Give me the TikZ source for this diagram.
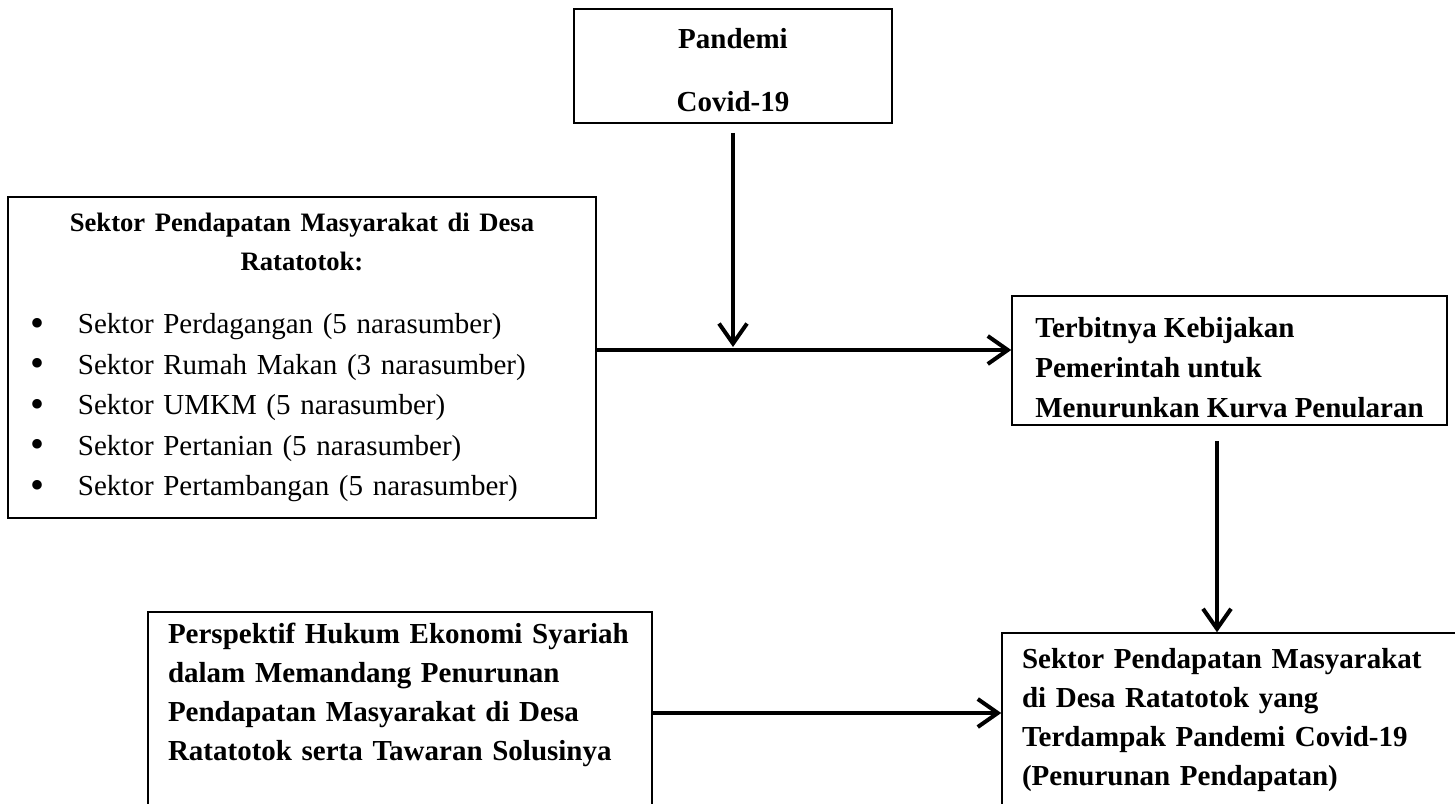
\documentclass[tikz,border=0pt]{standalone}
\usepackage{fontspec}
\setmainfont{Liberation Serif}
\usetikzlibrary{arrows.meta}
\tikzstyle{arrow} = [line width=2pt,-{Straight Barb[length=10pt,width=14pt,line width=2pt]}]
\tikzstyle{box} = [draw, rectangle, line width=0.75pt, inner sep=0pt, font=\fontsize{14.5}{19.5}\selectfont\bfseries]
\newcommand{\butir}[1]{\hspace*{11pt}\makebox[24pt][l]{\raisebox{-1.2pt}{\fontsize{20}{0}\selectfont\textbullet}}#1}

\begin{document}
\begin{tikzpicture}[x=0.5pt,y=-0.5pt]
\useasboundingbox (0,0) rectangle (1455,803);
\node[box, minimum width=159pt, minimum height=57pt, align=center] (pan) at (733,66) {\rule{0pt}{14pt}Pandemi\\[12pt]Covid-19};
\node[box, minimum width=294pt, minimum height=160.5pt, text width=294pt, align=left, font=\fontsize{14.5}{20.25}\selectfont] (sek) at (302,357.5) {{\centering\bfseries\fontsize{13.3}{19.5}\selectfont Sektor Pendapatan Masyarakat di Desa\\ Ratatotok:\par}\vspace{11.25pt}
\noindent\butir{Sektor Perdagangan (5 narasumber)}\\
\butir{Sektor Rumah Makan (3 narasumber)}\\
\butir{Sektor UMKM (5 narasumber)}\\
\butir{Sektor Pertanian (5 narasumber)}\\
\butir{Sektor Pertambangan (5 narasumber)}};
\node[box, minimum width=217.5pt, minimum height=64.5pt, align=left, font=\fontsize{14.5}{20}\selectfont\bfseries] (kbj) at (1229.5,360.5) {\rule{0pt}{17pt}Terbitnya Kebijakan\\ Pemerintah untuk\\ Menurunkan Kurva Penularan};
\node[box, minimum width=252pt, minimum height=101pt, text width=232pt, inner xsep=10pt, align=left] (per) at (400,713) {Perspektif Hukum Ekonomi Syariah\\ dalam Memandang Penurunan\\ Pendapatan Masyarakat di Desa\\ Ratatotok serta Tawaran Solusinya\\[2pt]\mbox{}};
\node[box, minimum width=236.5pt, minimum height=87pt, text width=216.5pt, inner xsep=10pt, align=left] (dmp) at (1238.5,720) {Sektor Pendapatan Masyarakat\\ di Desa Ratatotok yang\\ Terdampak Pandemi Covid-19\\ (Penurunan Pendapatan)};
\coordinate (cab) at ([yshift=3.75pt]sek.east);
\draw[arrow] (cab) -- (cab -| kbj.west);
\draw[arrow, shorten <=4.5pt, shorten >=1.5pt] (pan.south) -- (pan.south |- cab);
\coordinate (trn) at ([xshift=-6.25pt,yshift=-7.5pt]kbj.south);
\draw[arrow] (trn) -- (trn |- dmp.north);
\draw[arrow] (per.east) -- (per.east -| dmp.west);
\end{tikzpicture}
\end{document}
